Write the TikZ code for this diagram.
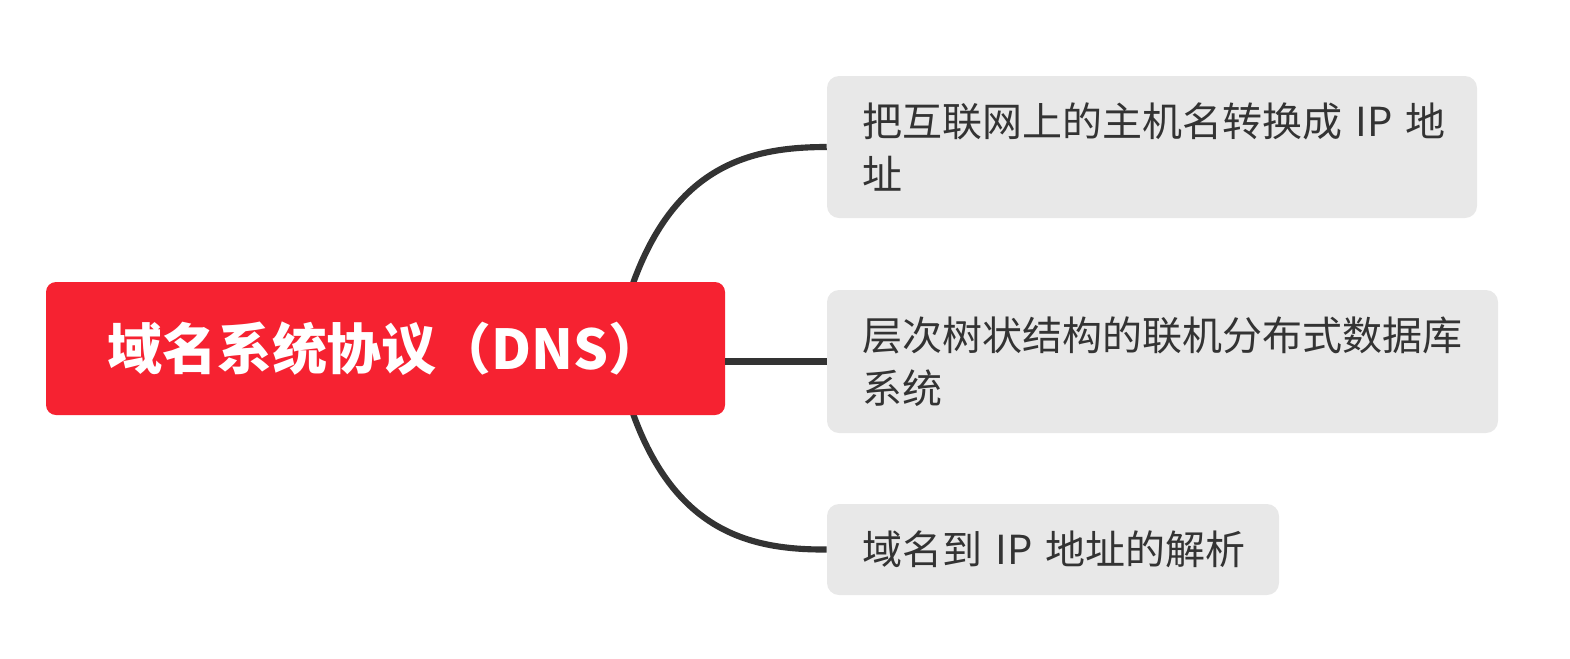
\documentclass[tikz,border=0pt]{standalone}
\usepackage{fontspec}
\newfontfamily\cjk{Noto Sans CJK SC}
\definecolor{rootred}{HTML}{F62231}
\definecolor{childgray}{HTML}{E8E8E8}
\definecolor{ink}{HTML}{333333}
\tikzset{
  px/.style={x=0.75pt,y=-0.75pt},
  rootbox/.style={fill=rootred, rounded corners=7.5pt, text=white, font=\cjk\bfseries\fontsize{41.2pt}{48pt}\selectfont, minimum width=509.25pt, minimum height=99.75pt, inner sep=0pt, align=center},
  childbox/.style={fill=childgray, rounded corners=9pt, text=ink, font=\cjk\fontsize{30pt}{39.75pt}\selectfont, inner xsep=26.25pt, inner ysep=0pt, align=left},
  conn/.style={draw=ink, line width=4.6pt}
}
\begin{document}
\begin{tikzpicture}[px]
\useasboundingbox (0,0) rectangle (1570,658);
\coordinate (hub) at (615,348.5);
\node[childbox, text width=435pt, minimum height=106.5pt] (c1) at (1152,147) {把互联网上的主机名转换成~IP~地\\址};
\node[childbox, text width=450.75pt, minimum height=107.25pt] (c2) at (1162.5,361.5) {层次树状结构的联机分布式数据库\\系统};
\node[childbox, text width=286.5pt, minimum height=68.25pt] (c3) at (1053,549.5) {域名到~IP~地址的解析};
\draw[conn] (hub) .. controls (652,170) and (740,147) .. (c1.west);
\draw[conn] (hub) .. controls (652,527) and (740,550) .. (c3.west);
\node[rootbox] (root) at (385.5,348.5) {域名系统协议（DNS）};
\draw[conn] (root.east |- c2.west) -- (c2.west);
\end{tikzpicture}
\end{document}
